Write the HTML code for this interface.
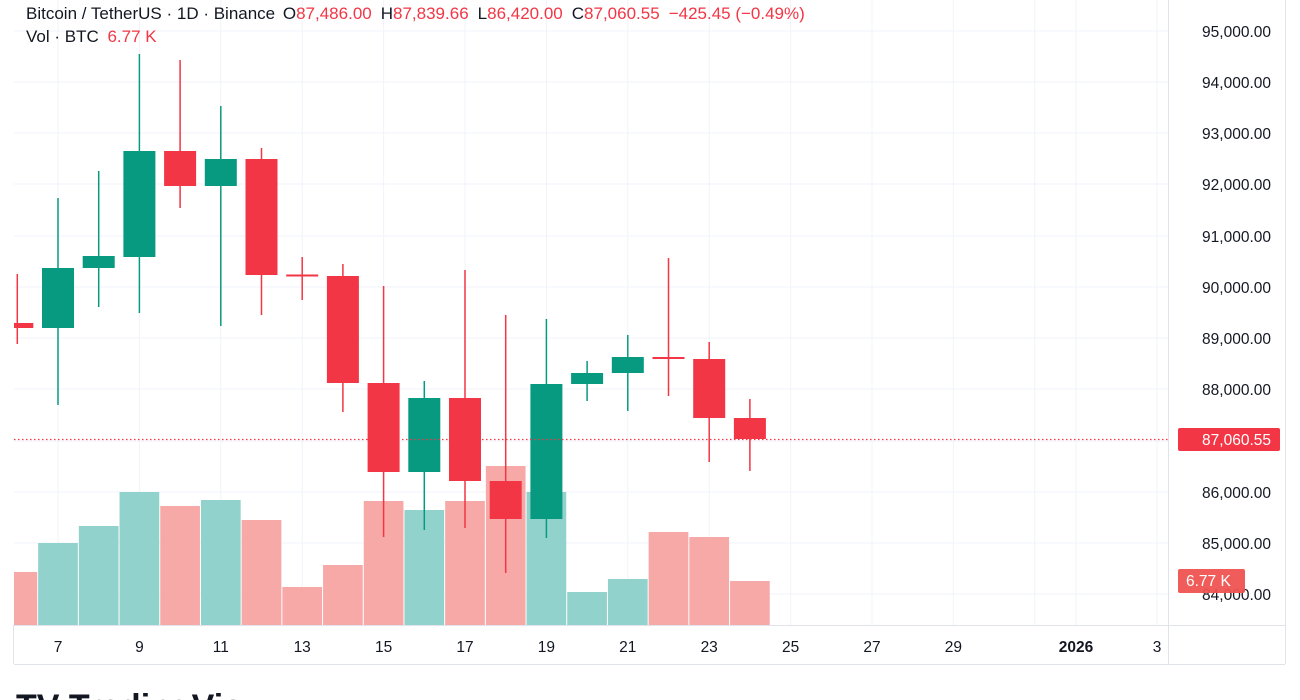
<!DOCTYPE html>
<html><head><meta charset="utf-8"><style>
html,body{margin:0;padding:0;background:#fff;width:1300px;height:700px;overflow:hidden}
svg{display:block;font-family:"Liberation Sans",Arial,sans-serif}
</style></head><body>
<svg width="1300" height="700" viewBox="0 0 1300 700">
<defs><clipPath id="pc"><rect x="14" y="0" width="1154" height="625"/></clipPath></defs>
<!-- grid -->
<g stroke="#f0f3fa" stroke-width="1">
<line x1="14" x2="1168" y1="31" y2="31"/><line x1="14" x2="1168" y1="82" y2="82"/><line x1="14" x2="1168" y1="133" y2="133"/><line x1="14" x2="1168" y1="184" y2="184"/><line x1="14" x2="1168" y1="236" y2="236"/><line x1="14" x2="1168" y1="287" y2="287"/><line x1="14" x2="1168" y1="338" y2="338"/><line x1="14" x2="1168" y1="389" y2="389"/><line x1="14" x2="1168" y1="441" y2="441"/><line x1="14" x2="1168" y1="492" y2="492"/><line x1="14" x2="1168" y1="543" y2="543"/><line x1="14" x2="1168" y1="594" y2="594"/>
<line x1="58" x2="58" y1="0" y2="625"/><line x1="139.4" x2="139.4" y1="0" y2="625"/><line x1="220.8" x2="220.8" y1="0" y2="625"/><line x1="302.2" x2="302.2" y1="0" y2="625"/><line x1="383.6" x2="383.6" y1="0" y2="625"/><line x1="465" x2="465" y1="0" y2="625"/><line x1="546.4" x2="546.4" y1="0" y2="625"/><line x1="627.8" x2="627.8" y1="0" y2="625"/><line x1="709.2" x2="709.2" y1="0" y2="625"/><line x1="790.6" x2="790.6" y1="0" y2="625"/><line x1="872" x2="872" y1="0" y2="625"/><line x1="953.4" x2="953.4" y1="0" y2="625"/><line x1="1034.8" x2="1034.8" y1="0" y2="625"/><line x1="1076" x2="1076" y1="0" y2="625"/><line x1="1157" x2="1157" y1="0" y2="625"/>
</g>
<g clip-path="url(#pc)">
<!-- volume -->
<g>
<rect x="-2.5" y="572" width="39.7" height="53" fill="#f7a9a7"/>
<rect x="38.15" y="543" width="39.7" height="82" fill="#92d2cc"/>
<rect x="78.85" y="526" width="39.7" height="99" fill="#92d2cc"/>
<rect x="119.55" y="492" width="39.7" height="133" fill="#92d2cc"/>
<rect x="160.25" y="506" width="39.7" height="119" fill="#f7a9a7"/>
<rect x="200.95" y="500" width="39.7" height="125" fill="#92d2cc"/>
<rect x="241.65" y="520" width="39.7" height="105" fill="#f7a9a7"/>
<rect x="282.35" y="587" width="39.7" height="38" fill="#f7a9a7"/>
<rect x="323.05" y="565" width="39.7" height="60" fill="#f7a9a7"/>
<rect x="363.75" y="501" width="39.7" height="124" fill="#f7a9a7"/>
<rect x="404.45" y="510" width="39.7" height="115" fill="#92d2cc"/>
<rect x="445.15" y="501" width="39.7" height="124" fill="#f7a9a7"/>
<rect x="485.85" y="466" width="39.7" height="159" fill="#f7a9a7"/>
<rect x="526.55" y="492" width="39.7" height="133" fill="#92d2cc"/>
<rect x="567.25" y="592" width="39.7" height="33" fill="#92d2cc"/>
<rect x="607.95" y="579" width="39.7" height="46" fill="#92d2cc"/>
<rect x="648.65" y="532" width="39.7" height="93" fill="#f7a9a7"/>
<rect x="689.35" y="537" width="39.7" height="88" fill="#f7a9a7"/>
<rect x="730.05" y="581" width="39.7" height="44" fill="#f7a9a7"/>
</g>
<!-- candles -->
<g stroke-width="1.5">
<line x1="17.3" x2="17.3" y1="274" y2="344" stroke="#f23645"/><rect x="1.3" y="323" width="32" height="5" fill="#f23645"/>
<line x1="58" x2="58" y1="198" y2="405" stroke="#089981"/><rect x="42" y="268" width="32" height="60" fill="#089981"/>
<line x1="98.7" x2="98.7" y1="171" y2="307" stroke="#089981"/><rect x="82.7" y="256" width="32" height="12" fill="#089981"/>
<line x1="139.4" x2="139.4" y1="54" y2="313" stroke="#089981"/><rect x="123.4" y="151" width="32" height="106" fill="#089981"/>
<line x1="180.1" x2="180.1" y1="60" y2="208" stroke="#f23645"/><rect x="164.1" y="151" width="32" height="35" fill="#f23645"/>
<line x1="220.8" x2="220.8" y1="106" y2="326" stroke="#089981"/><rect x="204.8" y="159" width="32" height="27" fill="#089981"/>
<line x1="261.5" x2="261.5" y1="148" y2="315" stroke="#f23645"/><rect x="245.5" y="159" width="32" height="116" fill="#f23645"/>
<line x1="302.2" x2="302.2" y1="257" y2="300" stroke="#f23645"/><rect x="286.2" y="274.5" width="32" height="2" fill="#f23645"/>
<line x1="342.9" x2="342.9" y1="264" y2="412" stroke="#f23645"/><rect x="326.9" y="276" width="32" height="107" fill="#f23645"/>
<line x1="383.6" x2="383.6" y1="286" y2="537" stroke="#f23645"/><rect x="367.6" y="383" width="32" height="89" fill="#f23645"/>
<line x1="424.3" x2="424.3" y1="381" y2="530" stroke="#089981"/><rect x="408.3" y="398" width="32" height="74" fill="#089981"/>
<line x1="465" x2="465" y1="270" y2="528" stroke="#f23645"/><rect x="449" y="398" width="32" height="83" fill="#f23645"/>
<line x1="505.7" x2="505.7" y1="315" y2="573" stroke="#f23645"/><rect x="489.7" y="481" width="32" height="38" fill="#f23645"/>
<line x1="546.4" x2="546.4" y1="319" y2="538" stroke="#089981"/><rect x="530.4" y="384" width="32" height="135" fill="#089981"/>
<line x1="587.1" x2="587.1" y1="361" y2="401" stroke="#089981"/><rect x="571.1" y="373" width="32" height="11" fill="#089981"/>
<line x1="627.8" x2="627.8" y1="335" y2="411" stroke="#089981"/><rect x="611.8" y="357" width="32" height="16" fill="#089981"/>
<line x1="668.5" x2="668.5" y1="258" y2="396" stroke="#f23645"/><rect x="652.5" y="357" width="32" height="2" fill="#f23645"/>
<line x1="709.2" x2="709.2" y1="342" y2="462" stroke="#f23645"/><rect x="693.2" y="359" width="32" height="59" fill="#f23645"/>
<line x1="749.9" x2="749.9" y1="399" y2="471" stroke="#f23645"/><rect x="733.9" y="418" width="32" height="21" fill="#f23645"/>
</g>
</g>
<line x1="14" x2="1168" y1="439.5" y2="439.5" stroke="#f23645" stroke-width="1.2" stroke-dasharray="1.5,2.5"/>
<!-- frame -->
<g stroke="#e0e3eb" fill="none" stroke-width="1">
<line x1="1168.5" x2="1168.5" y1="0" y2="664"/>
<line x1="14" x2="1285" y1="625.5" y2="625.5"/>
<line x1="1285.5" x2="1285.5" y1="0" y2="664"/>
<line x1="14" x2="1285" y1="664.5" y2="664.5"/>
<line x1="13.5" x2="13.5" y1="625" y2="664"/>
</g>
<!-- right axis -->
<g font-size="15.5" fill="#131722" text-anchor="end">
<text x="1271" y="37">95,000.00</text><text x="1271" y="88">94,000.00</text><text x="1271" y="139">93,000.00</text><text x="1271" y="190">92,000.00</text><text x="1271" y="242">91,000.00</text><text x="1271" y="293">90,000.00</text><text x="1271" y="344">89,000.00</text><text x="1271" y="395">88,000.00</text><text x="1271" y="498">86,000.00</text><text x="1271" y="549">85,000.00</text><text x="1271" y="600">84,000.00</text>
</g>
<rect x="1178" y="428" width="102" height="23" rx="2" fill="#f23645"/>
<text x="1271" y="445" font-size="15.5" fill="#fff" text-anchor="end">87,060.55</text>
<rect x="1178" y="569" width="67" height="24" rx="2" fill="#ef5350" opacity="0.95"/>
<text x="1186" y="586" font-size="15.5" fill="#fff">6.77 K</text>
<!-- x axis -->
<g font-size="15.5" fill="#131722" text-anchor="middle">
<text x="58" y="652">7</text><text x="139.4" y="652">9</text><text x="220.8" y="652">11</text><text x="302.2" y="652">13</text><text x="383.6" y="652">15</text><text x="465" y="652">17</text><text x="546.4" y="652">19</text><text x="627.8" y="652">21</text><text x="709.2" y="652">23</text><text x="790.6" y="652">25</text><text x="872" y="652">27</text><text x="953.4" y="652">29</text><text x="1076" y="652" font-weight="bold">2026</text><text x="1157" y="652">3</text>
</g>
<!-- header -->
<g font-size="17" fill="#131722">
<text x="26" y="19">Bitcoin / TetherUS · 1D · Binance <tspan dx="3">O</tspan><tspan fill="#f23645">87,486.00</tspan><tspan dx="9">H</tspan><tspan fill="#f23645">87,839.66</tspan><tspan dx="9">L</tspan><tspan fill="#f23645">86,420.00</tspan><tspan dx="9">C</tspan><tspan fill="#f23645">87,060.55</tspan><tspan dx="9" fill="#f23645">−425.45 (−0.49%)</tspan></text>
<text x="26" y="42">Vol · BTC <tspan dx="4" fill="#f23645">6.77 K</tspan></text>
</g>
<!-- logo -->
<text x="16" y="718" font-size="34" font-weight="bold" fill="#131722">TV TradingView</text>
</svg>
</body></html>
